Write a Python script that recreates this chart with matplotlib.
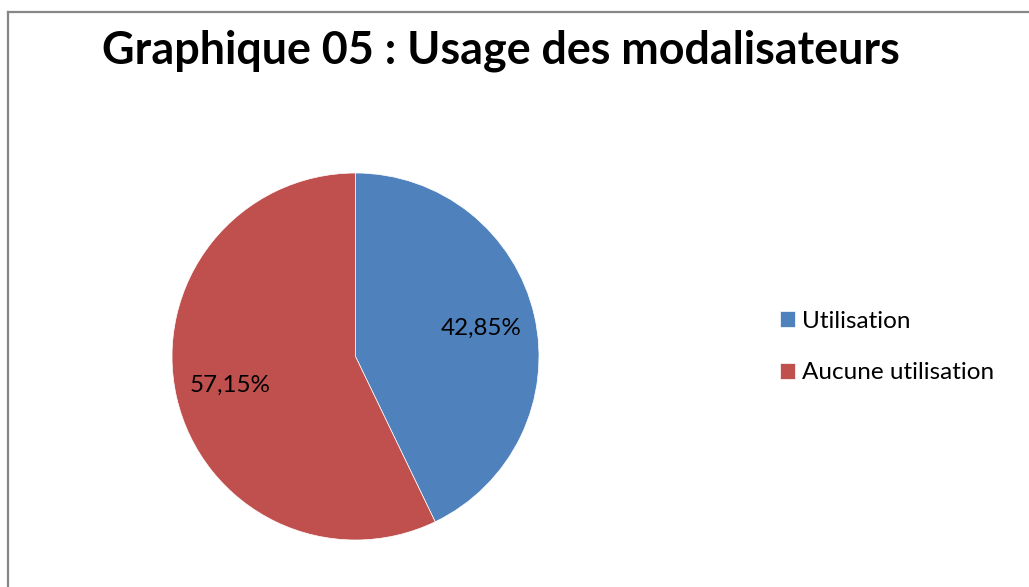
import matplotlib

matplotlib.use("Agg")
import matplotlib.pyplot as plt
from matplotlib.lines import Line2D

# données du graphique
categories = ["Utilisation", "Aucune utilisation"]
valeurs = [42.85, 57.15]
couleurs = ["#4F81BD", "#C0504D"]
titre = "Graphique 05 : Usage des modalisateurs"

W, H = 1029, 587
plt.rcParams["font.family"] = ["Lato", "DejaVu Sans"]

fig = plt.figure(figsize=(W / 100, H / 100), dpi=100)
fig.patch.set_facecolor("white")

# cadre gris (coupé à droite et en bas)
fig.add_artist(Line2D([8 / W, 1.0], [1 - 12 / H, 1 - 12 / H], transform=fig.transFigure,
                      color="#878787", linewidth=1.6))
fig.add_artist(Line2D([8 / W, 8 / W], [0.0, 1 - 12 / H], transform=fig.transFigure,
                      color="#878787", linewidth=1.6))

fig.text(501 / W, 1 - 51 / H, titre, ha="center", va="center",
         fontsize=32.3, fontweight="bold", color="black")

# camembert : centre (355.5, 356.5) px, rayon 183.5 px
r = 183.5
ax = fig.add_axes([(355.5 - r) / W, (H - 356.5 - r) / H, 2 * r / W, 2 * r / H])
wedges, texts, autotexts = ax.pie(
    valeurs, colors=couleurs, startangle=90, counterclock=False,
    autopct=lambda p: f"{p:.2f}%".replace(".", ","), pctdistance=0.7,
    wedgeprops=dict(edgecolor="white", linewidth=0.5),
    textprops=dict(fontsize=17.4, color="black"),
)
ax.set_xlim(-1, 1)
ax.set_ylim(-1, 1)
ax.set_aspect("auto")
ax.axis("off")

fig.legend(wedges, categories, loc="center left",
           bbox_to_anchor=(780 / W, 1 - 347 / H), bbox_transform=fig.transFigure,
           frameon=False, fontsize=17.5, handlelength=0.62, handleheight=0.62,
           handletextpad=0.3, labelspacing=1.27, borderpad=0, borderaxespad=0)

fig.savefig("out.png", dpi=100)
